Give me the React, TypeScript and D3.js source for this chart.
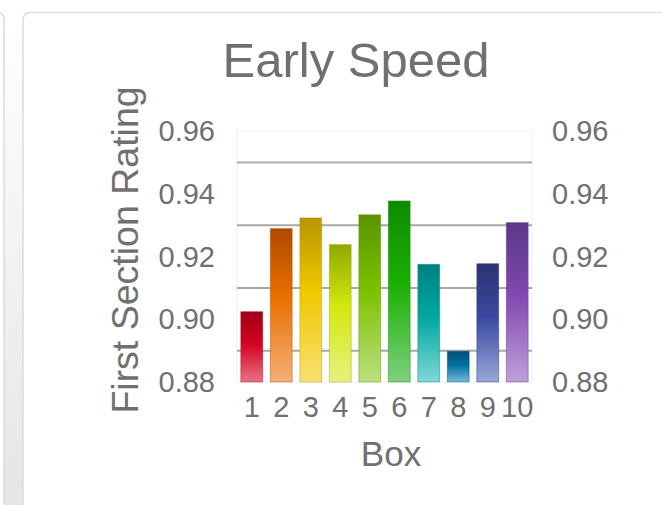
import React, { useEffect, useRef } from 'react';
import * as d3 from 'd3';

// data
const boxes = ['1', '2', '3', '4', '5', '6', '7', '8', '9', '10'];
const ratings = [0.9024, 0.9289, 0.9323, 0.9238, 0.9333, 0.9377, 0.9175, 0.8898, 0.9177, 0.9308];
const tickValues = [0.88, 0.90, 0.92, 0.94, 0.96];
const gridValues = [0.89, 0.91, 0.93, 0.95];
// top / middle / bottom colour of each bar's gradient
const barTop = ['#a00018', '#b04a00', '#b89600', '#90a800', '#5a9400', '#108a00', '#008080', '#005078', '#2a3470', '#5a3888'];
const barMid = ['#d40020', '#ea7000', '#f0c800', '#d4e810', '#7cc000', '#18b000', '#00a8a0', '#0070a0', '#3a48a0', '#8048b0'];
const barBottom = ['#e87088', '#f4b078', '#f8e070', '#e8f080', '#bce080', '#80d080', '#80d8d8', '#78b8d8', '#98a8d8', '#c0a0d8'];

const W = 662;
const H = 505;

export default function App() {
  const ref = useRef<SVGSVGElement>(null);

  useEffect(() => {
    const svg = d3.select(ref.current);
    svg.selectAll('*').remove();

    const font = 'Liberation Sans, Arial, sans-serif';
    const textColor = '#707070';
    const margin = { top: 131, right: 130, bottom: 123, left: 237 };

    const x = d3.scaleBand().domain(boxes).range([margin.left, W - margin.right]).paddingInner(0.26).paddingOuter(0.13);
    const y = d3.scaleLinear().domain([0.88, 0.96]).range([H - margin.bottom, margin.top]);

    const defs = svg.append('defs');

    // the grey strip between the two cards
    const strip = defs.append('linearGradient').attr('id', 'strip').attr('x1', 0).attr('x2', 0).attr('y1', 0).attr('y2', 1);
    strip.append('stop').attr('offset', '0%').attr('stop-color', '#ffffff');
    strip.append('stop').attr('offset', '100%').attr('stop-color', '#e4e4e4');

    boxes.forEach((b, i) => {
      const g = defs.append('linearGradient').attr('id', 'bar' + i).attr('x1', 0).attr('x2', 0).attr('y1', 0).attr('y2', 1);
      g.append('stop').attr('offset', '0%').attr('stop-color', barTop[i]);
      g.append('stop').attr('offset', '45%').attr('stop-color', barMid[i]);
      g.append('stop').attr('offset', '100%').attr('stop-color', barBottom[i]);
    });

    // cards
    svg.append('rect').attr('x', 4).attr('y', 20).attr('width', 20).attr('height', H).attr('fill', 'url(#strip)');
    svg.append('path')
      .attr('d', `M-10,12.5 L-3,12.5 Q4,12.5 4,19.5 L4,${H}`)
      .attr('fill', 'none').attr('stroke', '#dcdcdc').attr('stroke-width', 1.5);
    svg.append('rect').attr('x', 23).attr('y', 12.5).attr('width', W).attr('height', H).attr('rx', 7)
      .attr('fill', '#fff').attr('stroke', '#dcdcdc').attr('stroke-width', 1.5);

    // plot frame
    svg.append('rect')
      .attr('x', margin.left).attr('y', margin.top)
      .attr('width', W - margin.right - margin.left).attr('height', H - margin.bottom - margin.top)
      .attr('fill', 'none').attr('stroke', '#f0f0f0');

    // grid
    svg.append('g').selectAll('line').data(gridValues).join('line')
      .attr('x1', margin.left).attr('x2', W - margin.right)
      .attr('y1', d => y(d)).attr('y2', d => y(d))
      .attr('stroke', '#a9a9a9').attr('stroke-width', 2);

    // bars
    svg.append('g').selectAll('rect').data(ratings).join('rect')
      .attr('x', (d, i) => x(boxes[i])!)
      .attr('y', d => y(d))
      .attr('width', x.bandwidth())
      .attr('height', d => y(0.88) - y(d))
      .attr('fill', (d, i) => `url(#bar${i})`)
      .attr('stroke', (d, i) => barTop[i])
      .attr('stroke-opacity', 0.45)
      .attr('stroke-width', 1);

    // y tick labels, both sides
    const fmt = d3.format('.2f');
    svg.append('g').selectAll('text').data(tickValues).join('text')
      .attr('x', margin.left - 22).attr('y', d => y(d))
      .attr('dy', '0.35em').attr('text-anchor', 'end')
      .attr('font-family', font).attr('font-size', 29).attr('fill', textColor)
      .text(d => fmt(d));
    svg.append('g').selectAll('text').data(tickValues).join('text')
      .attr('x', W - margin.right + 20).attr('y', d => y(d))
      .attr('dy', '0.35em').attr('text-anchor', 'start')
      .attr('font-family', font).attr('font-size', 29).attr('fill', textColor)
      .text(d => fmt(d));

    // x tick labels
    svg.append('g').selectAll('text').data(boxes).join('text')
      .attr('x', d => x(d)! + x.bandwidth() / 2).attr('y', 417)
      .attr('text-anchor', 'middle')
      .attr('font-family', font).attr('font-size', 29).attr('fill', textColor)
      .text(d => d);

    // titles
    svg.append('text')
      .attr('x', 356).attr('y', 77).attr('text-anchor', 'middle')
      .attr('font-family', font).attr('font-size', 49).attr('fill', textColor)
      .text('Early Speed');
    svg.append('text')
      .attr('x', 391).attr('y', 466).attr('text-anchor', 'middle')
      .attr('font-family', font).attr('font-size', 35).attr('fill', textColor)
      .text('Box');
    svg.append('text')
      .attr('transform', 'translate(138,250) rotate(-90)').attr('text-anchor', 'middle')
      .attr('font-family', font).attr('font-size', 37.5).attr('fill', textColor)
      .text('First Section Rating');
  }, []);

  return (
    <svg ref={ref} width={W} height={H} style={{ position: 'absolute', left: 0, top: 0 }} />
  );
}
